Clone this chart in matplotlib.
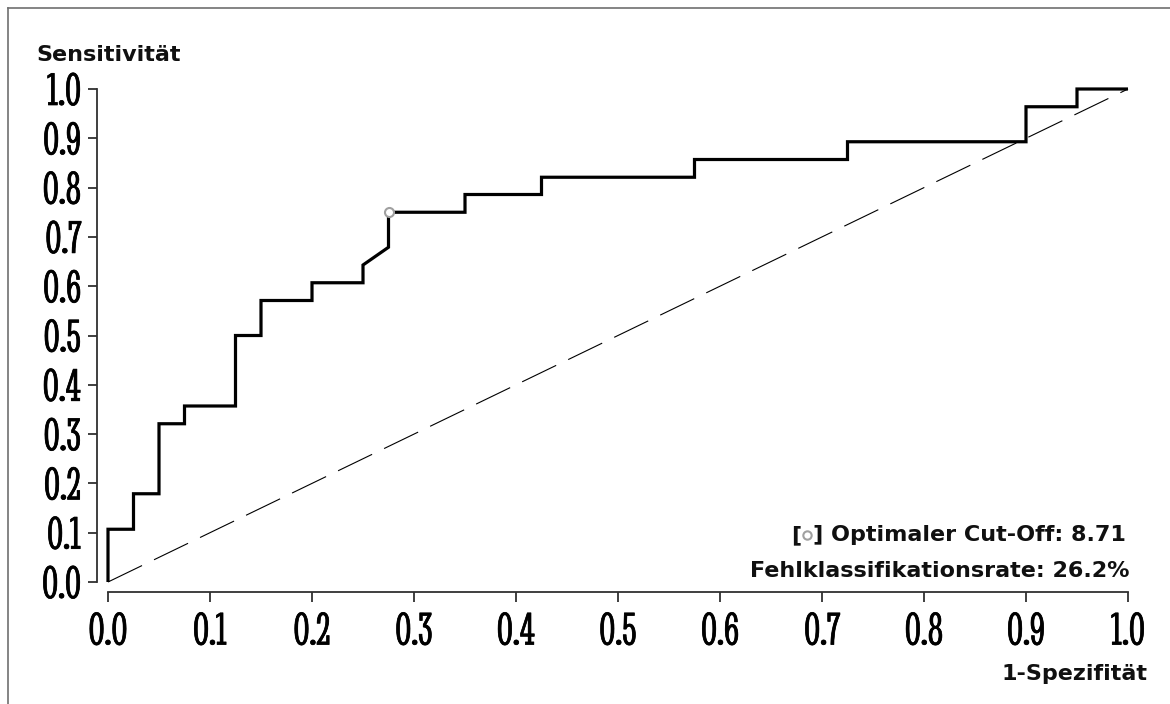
import matplotlib
matplotlib.use("Agg")
import matplotlib.pyplot as plt
from matplotlib.lines import Line2D
from matplotlib import patheffects

# ROC curve vertices (1 - specificity, sensitivity)
fpr = [0, 0, 0.025, 0.025, 0.05, 0.05, 0.075, 0.075, 0.125, 0.125, 0.15, 0.15,
       0.2, 0.2, 0.25, 0.25, 0.275, 0.275, 0.35, 0.35, 0.425, 0.425, 0.575,
       0.575, 0.725, 0.725, 0.9, 0.9, 0.95, 0.95, 1.0]
tpr = [0, 0.107, 0.107, 0.179, 0.179, 0.321, 0.321, 0.357, 0.357, 0.5, 0.5,
       0.571, 0.571, 0.607, 0.607, 0.643, 0.679, 0.75, 0.75, 0.786, 0.786,
       0.821, 0.821, 0.857, 0.857, 0.893, 0.893, 0.964, 0.964, 1.0, 1.0]

# optimal cut-off point
cut_fpr = 0.275
cut_tpr = 0.75
cut_value = 8.71
misclass_rate = 26.2

ticks = [0.0, 0.1, 0.2, 0.3, 0.4, 0.5, 0.6, 0.7, 0.8, 0.9, 1.0]
tick_labels = ["0.0", "0.1", "0.2", "0.3", "0.4", "0.5", "0.6", "0.7", "0.8", "0.9", "1.0"]

W, H = 1170, 704
fig = plt.figure(figsize=(W / 100, H / 100), dpi=100)
fig.patch.set_facecolor("white")

ax = fig.add_axes([108 / W, 1 - 582 / H, 1020 / W, 493 / H])
ax.set_xlim(0, 1)
ax.set_ylim(0, 1)

# chance diagonal
ax.plot([0, 1], [0, 1], color="black", lw=0.8, dashes=(34, 12), clip_on=False)
# ROC step curve
ax.plot(fpr, tpr, color="black", lw=2.3, solid_joinstyle="miter",
        solid_capstyle="butt", clip_on=False, zorder=3)
ax.plot([cut_fpr], [cut_tpr], marker="o", ms=6.5, mfc="white", mec="#a0a0a0",
        mew=1.5, clip_on=False, zorder=4)

for s in ("top", "right"):
    ax.spines[s].set_visible(False)
ax.spines["left"].set_position(("outward", 8))
ax.spines["bottom"].set_position(("outward", 7.5))
for s in ("left", "bottom"):
    ax.spines[s].set_linewidth(1.3)
    ax.spines[s].set_color("#303030")

# condensed digits with a thin outline stroke for a little extra weight
tick_font = dict(family=["Stint Ultra Condensed", "DejaVu Sans"], size=34)
heavy = [patheffects.withStroke(linewidth=0.5, foreground="black")]
ax.set_xticks(ticks)
ax.set_xticklabels(tick_labels, fontdict=tick_font)
ax.set_yticks(ticks)
ax.set_yticklabels(tick_labels, fontdict=tick_font)
for lab in ax.get_xticklabels() + ax.get_yticklabels():
    lab.set_path_effects(heavy)
ax.tick_params(axis="both", direction="out", color="#303030", width=1.3)
ax.tick_params(axis="x", length=7.5, pad=7)
ax.tick_params(axis="y", length=6.5, pad=5)

label_font = dict(family="DejaVu Sans", weight="bold", size=16, color="#101010")
fig.text(36 / W, 1 - 61 / H, "Sensitivität", ha="left", va="baseline", **label_font)
fig.text(1147 / W, 1 - 680 / H, "1-Spezifität", ha="right", va="baseline", **label_font)

# cut-off legend: "[o] Optimaler Cut-Off: 8.71"
t1 = fig.text(1126 / W, 1 - 541 / H, f"] Optimaler Cut-Off: {cut_value:.2f}",
              ha="right", va="baseline", **label_font)
fig.canvas.draw()
r = fig.canvas.get_renderer()
x_right = t1.get_window_extent(r).x0
marker_x = x_right - 6
fig.add_artist(Line2D([marker_x / W], [1 - 535 / H], transform=fig.transFigure,
                      marker="o", ms=6, mfc="white", mec="#a0a0a0", mew=1.5, ls="none"))
fig.text((marker_x - 6) / W, 1 - 541 / H, "[", ha="right", va="baseline", **label_font)

fig.text(1130 / W, 1 - 577 / H, f"Fehlklassifikationsrate: {misclass_rate:.1f}%",
         ha="right", va="baseline", **label_font)

# outer frame (top and left edges)
fig.add_artist(Line2D([8 / W, 8 / W], [0, 1 - 8 / H], transform=fig.transFigure,
                      color="#707070", lw=1.2))
fig.add_artist(Line2D([8 / W, 1], [1 - 8 / H, 1 - 8 / H], transform=fig.transFigure,
                      color="#707070", lw=1.2))

fig.savefig("out.png", dpi=100)
